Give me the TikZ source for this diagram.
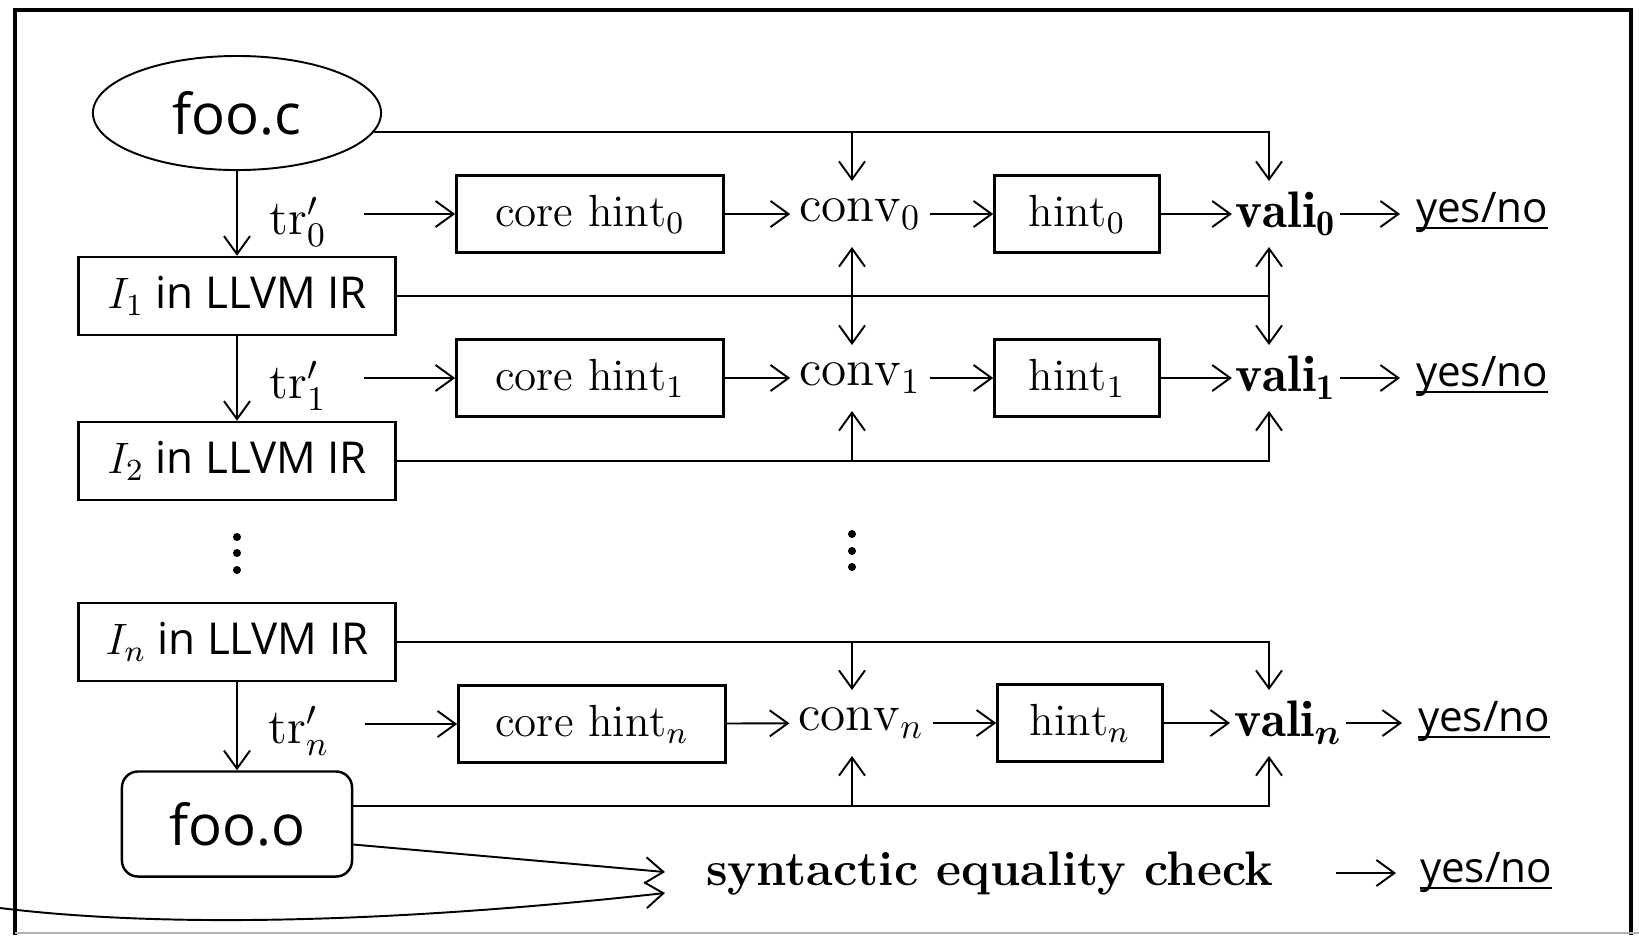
\RequirePackage{fix-cm}
\documentclass[tikz,border=0pt]{standalone}
\usepackage{amsmath}
\usepackage{fontspec}
\setsansfont{Open Sans}
\usetikzlibrary{arrows.meta,shapes.geometric}

\newlength\ynwidth
\newcommand\lowul[1]{\settowidth{\ynwidth}{#1}\rlap{\rule[-2pt]{\ynwidth}{0.5pt}}#1}

\tikzset{
  arr/.style={-{Straight Barb[length=1.8mm,width=2.6mm]}},
  dbl/.style={{Straight Barb[length=1.8mm,width=2.6mm]}-{Straight Barb[length=1.8mm,width=2.6mm]}},
  irbox/.style={draw, line width=0.7pt, minimum width=3.17cm, minimum height=0.78cm,
    inner sep=0pt, font=\sffamily\fontsize{12.5}{15}\selectfont},
  corebox/.style={draw, line width=0.7pt, minimum width=2.67cm, minimum height=0.77cm,
    inner sep=0pt, font=\fontsize{12.8}{15}\selectfont},
  hintbox/.style={corebox, minimum width=1.65cm},
  convtxt/.style={minimum height=0.64cm, inner ysep=0pt, inner xsep=0.08cm,
    font=\fontsize{14.6}{17}\selectfont},
  valitxt/.style={convtxt, inner xsep=0.03cm},
  trtxt/.style={minimum width=1.3cm, inner sep=0pt, font=\fontsize{14}{16}\selectfont},
  yesno/.style={anchor=base, inner ysep=0pt, inner xsep=0.15cm, font=\sffamily\fontsize{12}{14}\selectfont},
  vdot/.style={circle, fill, inner sep=0pt, minimum size=0.08cm},
}

\begin{document}
\begin{tikzpicture}[x=0.01cm, y=-0.01cm, line width=0.55pt]
  \useasboundingbox (0,0) rectangle (1639,935);
  % frame
  \draw[line width=1.2pt] (15,935) -- (15,10) -- (1631,10) -- (1631,935);
  \draw[black!30, line width=0.4pt] (15,933) -- (1639,933);

  % left column
  \node[ellipse, draw, minimum width=2.88cm, minimum height=1.14cm, inner sep=0pt,
    font=\sffamily\fontsize{16}{18}\selectfont] (fooc) at (237,113) {foo.c};
  \node[irbox] (i1) at (237,296) {$I_1$ in LLVM IR};
  \node[irbox] (i2) at (237,461) {$I_2$ in LLVM IR};
  \node[irbox] (in) at (237,642) {$I_n$ in LLVM IR};
  \node[draw, line width=0.7pt, rounded corners=0.16cm, minimum width=2.3cm,
    minimum height=1.05cm, font=\sffamily\fontsize{16}{18}\selectfont] (fooo) at (237,824) {foo.o};

  % dots
  \foreach \k/\y in {1/537,2/553,3/570}
    \node[vdot] (dl\k) at (237,\y) {};
  \foreach \k/\y in {1/534,2/551,3/567}
    \node[vdot] (dm\k) at (852,\y) {};

  % rows
  \node[trtxt] (tr0) at (298,222) {$\mathrm{tr}'_0$};
  \node[trtxt] (tr1) at (298,386) {$\mathrm{tr}'_1$};
  \node[trtxt] (trn) at (299,731) {$\mathrm{tr}'_n$};
  \node[corebox] (ch0) at (590,214) {$\mathrm{core\ hint}_0$};
  \node[corebox] (ch1) at (590,378) {$\mathrm{core\ hint}_1$};
  \node[corebox] (chn) at (592,724) {$\mathrm{core\ hint}_n$};
  \node[convtxt] (conv0) at (860,214) {$\mathrm{conv}_0$};
  \node[convtxt] (conv1) at (860,378) {$\mathrm{conv}_1$};
  \node[convtxt] (convn) at (861,723) {$\mathrm{conv}_n$};
  \node[hintbox] (h0) at (1077,214) {$\mathrm{hint}_0$};
  \node[hintbox] (h1) at (1077,378) {$\mathrm{hint}_1$};
  \node[hintbox] (hn) at (1080,723) {$\mathrm{hint}_n$};
  \node[valitxt] (vali0) at (1286,214) {$\mathbf{vali}_{\mathbf{0}}$};
  \node[valitxt] (vali1) at (1286,378) {$\mathbf{vali}_{\mathbf{1}}$};
  \node[valitxt] (valin) at (1288,723) {$\mathbf{vali}_{\boldsymbol{n}}$};
  \node[yesno] (yn0) at (1482,222) {\lowul{yes/no}};
  \node[yesno] (yn1) at (1482,386) {\lowul{yes/no}};
  \node[yesno] (ynn) at (1484,731) {\lowul{yes/no}};
  \node[font=\bfseries\fontsize{13.8}{16}\selectfont] (syn) at (990,873) {syntactic equality check};
  \node[yesno] (yns) at (1486,882) {\lowul{yes/no}};

  \coordinate (cx) at (852,0);
  \coordinate (vx) at (1269,0);
  \coordinate (eqa) at (665,872);
  \coordinate (eqb) at (665,893);
  \coordinate (lft) at (0,908);

  \draw[arr] (fooc) -- (i1);
  \draw[arr] (i1) -- (i2);
  \draw[arr] (in) -- (fooo);
  \foreach \r in {0,1,n} {
    \draw[arr] (tr\r.east |- ch\r) -- (ch\r);
    \draw[arr] (ch\r) -- (conv\r);
    \draw[arr] (conv\r) -- (h\r);
    \draw[arr] (h\r) -- (vali\r);
    \draw[arr] (vali\r.east) -- (vali\r.east -| yn\r.west);
  }

  % inputs of conv and vali
  \draw[arr] (fooc.-8) -| (conv0.north -| cx);
  \draw[arr] (fooc.-8) -| (vali0.north -| vx);
  \draw (i1.east) -- (i1.east -| vx);
  \draw[dbl] (conv0.south -| cx) -- (conv1.north -| cx);
  \draw[dbl] (vali0.south -| vx) -- (vali1.north -| vx);
  \draw[arr] (i2.east) -| (conv1.south -| cx);
  \draw[arr] (i2.east) -| (vali1.south -| vx);
  \draw[arr] (in.east) -| (convn.north -| cx);
  \draw[arr] (in.east) -| (valin.north -| vx);
  \draw[arr] (fooo.9) -| (convn.south -| cx);
  \draw[arr] (fooo.9) -| (valin.south -| vx);

  % syntactic check
  \draw[arr] (fooo.-10) -- (eqa);
  \draw[arr] (lft) .. controls (180,930) and (420,920) .. (eqb);
  \draw[arr, shorten <=0.5cm, shorten >=0.08cm] (syn.east) -- (syn.east -| yns.west);
\end{tikzpicture}
\end{document}
